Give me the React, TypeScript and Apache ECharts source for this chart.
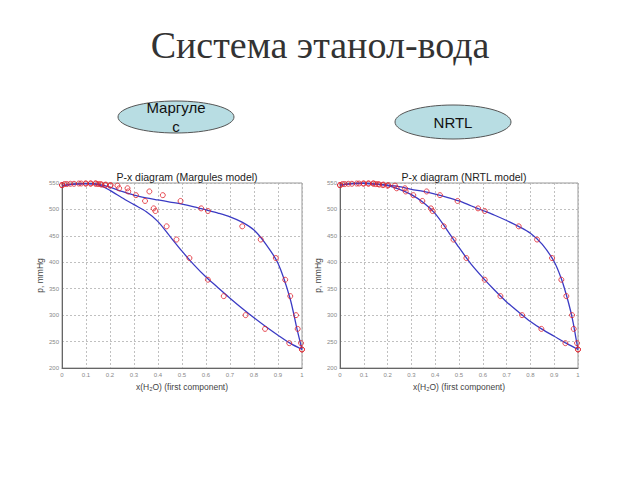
import React, { useEffect, useRef } from "react";
import * as echarts from "echarts";

// Experimental data (shared by both panels)
const expP = [546, 548, 548.5, 549, 549, 549, 549, 548, 547, 546, 545, 540, 534, 527, 516, 502, 497, 468, 443, 408, 367, 336, 300, 274, 247, 235];
const expX = [0, 0.02, 0.05, 0.08, 0.1, 0.12, 0.14, 0.16, 0.182, 0.203, 0.231, 0.273, 0.364, 0.42, 0.494, 0.58, 0.608, 0.751, 0.828, 0.891, 0.93, 0.951, 0.975, 0.982, 0.996, 1];
const expY = [0, 0.01, 0.035, 0.07, 0.098, 0.119, 0.14, 0.15, 0.165, 0.18, 0.2, 0.238, 0.276, 0.308, 0.346, 0.382, 0.389, 0.436, 0.477, 0.531, 0.608, 0.674, 0.765, 0.846, 0.947, 1];

// Model curves
const margBubbleX = [0, 0.05, 0.1, 0.15, 0.2, 0.25, 0.3, 0.35, 0.4, 0.45, 0.5, 0.55, 0.6, 0.65, 0.7, 0.75, 0.8, 0.85, 0.9, 0.95, 0.98, 1];
const margBubbleP = [545, 548, 549, 548, 542, 534, 527, 522, 518, 514, 510, 505, 499, 493, 486, 476, 461, 434, 398, 332, 272, 235];
const margDewX = [0, 0.05, 0.1, 0.15, 0.2, 0.25, 0.3, 0.35, 0.4, 0.45, 0.5, 0.55, 0.6, 0.65, 0.7, 0.75, 0.8, 0.85, 0.9, 0.95, 1];
const margDewP = [545, 548, 549, 547, 536, 522, 509, 496, 477, 449, 421, 395, 372, 352, 332, 313, 295, 278, 262, 247, 235];

const nrtlBubbleX = [0, 0.05, 0.1, 0.15, 0.2, 0.25, 0.3, 0.35, 0.4, 0.45, 0.5, 0.55, 0.6, 0.65, 0.7, 0.75, 0.8, 0.85, 0.9, 0.93, 0.95, 0.97, 0.98, 0.99, 1];
const nrtlBubbleP = [546, 549, 549.5, 548, 546, 543, 538, 534, 529, 523, 516, 507, 498, 489, 479, 468, 455, 434, 401, 369, 340, 306, 285, 260, 235];
const nrtlDewX = [0, 0.05, 0.1, 0.15, 0.2, 0.25, 0.3, 0.35, 0.4, 0.45, 0.5, 0.55, 0.6, 0.65, 0.7, 0.75, 0.8, 0.85, 0.9, 0.95, 1];
const nrtlDewP = [546, 549, 549.5, 548, 545, 538, 528, 513, 492, 461, 428, 397, 371, 347, 325, 306, 288, 273, 260, 247, 235];

const xTicks = ["0", "0.1", "0.2", "0.3", "0.4", "0.5", "0.6", "0.7", "0.8", "0.9", "1"];

const zip = (a: number[], b: number[]) => a.map((v, i) => [v, b[i]]);

export default function App() {
  const ref = useRef<HTMLDivElement>(null);
  useEffect(() => {
    if (!ref.current) return;
    const chart = echarts.init(ref.current, null, { renderer: "svg" });
    const grids = [
      { left: 62, top: 183, width: 240, height: 185 },
      { left: 340, top: 183, width: 238, height: 185 },
    ];
    const mkX = (i: number) => ({
      type: "value",
      gridIndex: i,
      min: 0,
      max: 1,
      interval: 0.1,
      name: "x(H₂O) (first component)",
      nameLocation: "middle",
      nameGap: 14,
      nameTextStyle: { fontSize: 8.5, color: "#444", fontFamily: "Liberation Sans" },
      axisLine: { show: true, lineStyle: { color: "#666", width: 1 } },
      axisTick: { show: false },
      axisLabel: {
        fontSize: 6,
        color: "#888",
        margin: 4,
        fontFamily: "Liberation Sans",
        formatter: (v: number) => xTicks[Math.round(v * 10)] ?? "",
      },
      splitLine: { show: true, lineStyle: { color: "#b0b0b0", type: [2, 2], width: 0.8 } },
    });
    const mkY = (i: number) => ({
      type: "value",
      gridIndex: i,
      min: 200,
      max: 550,
      interval: 50,
      name: "p, mmHg",
      nameLocation: "middle",
      nameGap: 18,
      nameRotate: 90,
      nameTextStyle: { fontSize: 8.5, color: "#444", fontFamily: "Liberation Sans" },
      axisLine: { show: true, lineStyle: { color: "#666", width: 1 } },
      axisTick: { show: false },
      axisLabel: { fontSize: 6, color: "#888", margin: 3, fontFamily: "Liberation Sans" },
      splitLine: { show: true, lineStyle: { color: "#b0b0b0", type: [2, 2], width: 0.8 } },
    });
    const lineStyle = { color: "#3b3bc4", width: 1.3 };
    const mkLine = (i: number, xs: number[], ps: number[]) => ({
      type: "line",
      xAxisIndex: i,
      yAxisIndex: i,
      data: zip(xs, ps),
      smooth: 0.3,
      showSymbol: false,
      lineStyle,
      z: 2,
    });
    const mkScatter = (i: number, xs: number[]) => ({
      type: "scatter",
      xAxisIndex: i,
      yAxisIndex: i,
      data: zip(xs, expP),
      symbol: "circle",
      symbolSize: 5,
      itemStyle: { color: "rgba(0,0,0,0)", borderColor: "#e0202a", borderWidth: 1 },
      z: 3,
    });
    const titleStyle = { fontSize: 10.5, fontWeight: "normal", color: "#222", fontFamily: "Liberation Sans" };
    chart.setOption({
      animation: false,
      backgroundColor: "#fff",
      title: [
        { text: "P-x diagram (Margules model)", left: 182, top: 166, textAlign: "center", textStyle: titleStyle },
        { text: "P-x diagram (NRTL model)", left: 459, top: 166, textAlign: "center", textStyle: titleStyle },
      ],
      grid: grids.map((g) => ({ ...g, show: true, borderColor: "#999", borderWidth: 1, backgroundColor: "#fff" })),
      xAxis: [mkX(0), mkX(1)],
      yAxis: [mkY(0), mkY(1)],
      series: [
        mkLine(0, margBubbleX, margBubbleP),
        mkLine(0, margDewX, margDewP),
        mkScatter(0, expX),
        mkScatter(0, expY),
        mkLine(1, nrtlBubbleX, nrtlBubbleP),
        mkLine(1, nrtlDewX, nrtlDewP),
        mkScatter(1, expX),
        mkScatter(1, expY),
      ],
      graphic: [
        {
          type: "text",
          left: "center",
          top: 26,
          style: {
            text: "Система этанол-вода",
            fontSize: 38,
            fontFamily: "Liberation Serif",
            fill: "#333",
          },
        },
        {
          type: "ellipse",
          shape: { cx: 176, cy: 117, rx: 58, ry: 16 },
          style: { fill: "#b8dde3", stroke: "#555", lineWidth: 1 },
        },
        {
          type: "text",
          x: 176,
          y: 117,
          style: {
            text: "Маргуле\nс",
            fontSize: 15,
            fontFamily: "Liberation Sans",
            fill: "#111",
            align: "center",
            verticalAlign: "middle",
            lineHeight: 19,
          },
        },
        {
          type: "ellipse",
          shape: { cx: 453, cy: 122, rx: 58, ry: 17 },
          style: { fill: "#b8dde3", stroke: "#555", lineWidth: 1 },
        },
        {
          type: "text",
          x: 453,
          y: 122,
          style: {
            text: "NRTL",
            fontSize: 15,
            fontFamily: "Liberation Sans",
            fill: "#111",
            align: "center",
            verticalAlign: "middle",
          },
        },
      ],
    });
    return () => chart.dispose();
  }, []);
  return <div ref={ref} style={{ position: "absolute", left: 0, top: 0, width: 640, height: 480 }} />;
}
